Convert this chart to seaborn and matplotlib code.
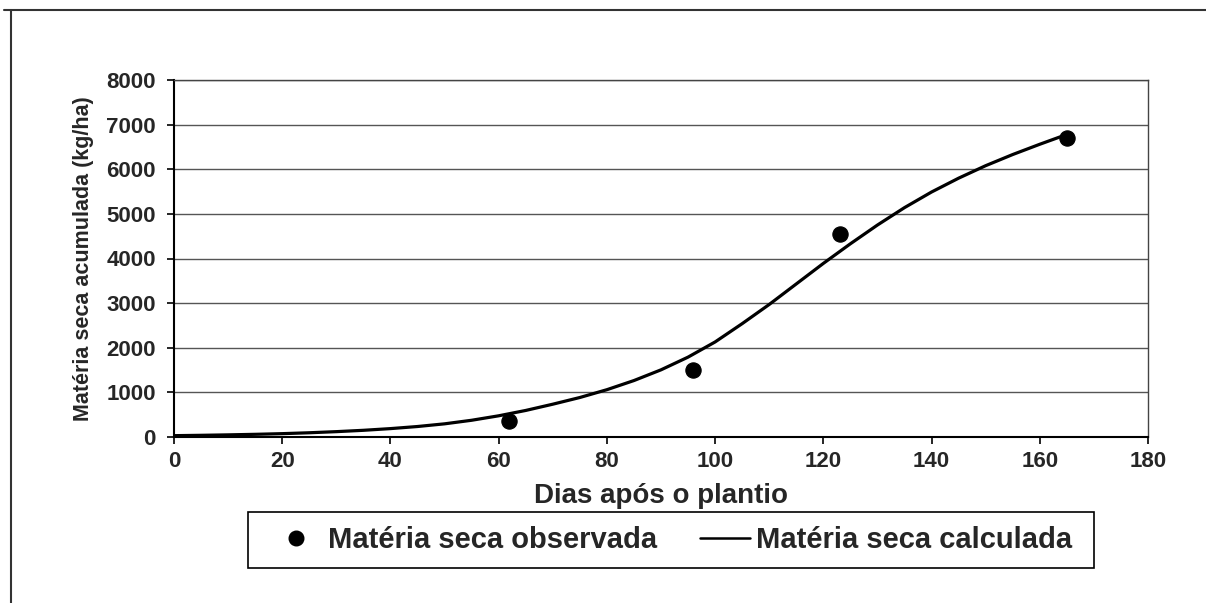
import matplotlib
matplotlib.use("Agg")
import matplotlib.pyplot as plt
import seaborn as sns
import pandas as pd
from matplotlib.lines import Line2D
from matplotlib.patches import Rectangle

obs_days = [62, 96, 123, 165]
obs_values = [350, 1500, 4550, 6700]

calc_days = [0, 5, 10, 15, 20, 25, 30, 35, 40, 45, 50, 55, 60, 65, 70, 75, 80, 85,
             90, 95, 100, 105, 110, 115, 120, 125, 130, 135, 140, 145, 150, 155, 160, 165]
calc_values = [30, 38, 48, 60, 75, 95, 120, 150, 188, 235, 295, 375, 475, 595, 735, 885,
               1060, 1265, 1505, 1790, 2130, 2540, 2970, 3430, 3890, 4330, 4750, 5140,
               5490, 5800, 6080, 6330, 6560, 6780]

x_ticks = [0, 20, 40, 60, 80, 100, 120, 140, 160, 180]
y_ticks = [0, 1000, 2000, 3000, 4000, 5000, 6000, 7000, 8000]

sns.set_theme(style="white")
plt.rcParams['font.family'] = ['Liberation Sans', 'DejaVu Sans']

W, H = 1206, 603
fig = plt.figure(figsize=(W/100, H/100), dpi=100)
ax = fig.add_axes([174/W, 1-437/H, (1148-174)/W, (437-80)/H])

df_calc = pd.DataFrame({"dias": calc_days, "ms": calc_values})
df_obs = pd.DataFrame({"dias": obs_days, "ms": obs_values})

sns.lineplot(data=df_calc, x="dias", y="ms", ax=ax, color="black", linewidth=2.3, zorder=3)
sns.scatterplot(data=df_obs, x="dias", y="ms", ax=ax, color="black", s=120, marker="o",
                edgecolor="black", zorder=4)

ax.set_xlim(0, 180)
ax.set_ylim(0, 8000)
ax.set_xticks(x_ticks)
ax.set_yticks(y_ticks)
ax.set_xticklabels([str(t) for t in x_ticks], fontsize=16, fontweight="bold")
ax.set_yticklabels([str(t) for t in y_ticks], fontsize=16, fontweight="bold")
ax.yaxis.grid(True, color="#555555", linewidth=1.0)
ax.xaxis.grid(False)
ax.tick_params(axis="both", direction="out", length=5, width=1.2, color="black",
               left=True, bottom=True)
ax.tick_params(axis="y", pad=8)
ax.tick_params(axis="x", pad=5)
for side in ["left", "bottom"]:
    ax.spines[side].set_color("black")
    ax.spines[side].set_linewidth(1.5)
for side in ["top", "right"]:
    ax.spines[side].set_color("#444444")
    ax.spines[side].set_linewidth(1.0)

ax.set_xlabel("Dias após o plantio", fontsize=20, fontweight="bold", labelpad=8)
ax.set_ylabel("Matéria seca acumulada (kg/ha)", fontsize=15.5, fontweight="bold", labelpad=9)

handles = [
    Line2D([], [], marker="o", color="black", linestyle="none", markersize=10.5),
    Line2D([], [], color="black", linewidth=1.8),
]
leg = fig.legend(handles, ["Matéria seca observada", "Matéria seca calculada"],
                 loc="center", bbox_to_anchor=(672/W, 1-540/H), ncol=2,
                 prop={"size": 21, "weight": "bold"}, frameon=False,
                 handlelength=1.7, columnspacing=1.5, handletextpad=0.22, borderpad=0.45,
                 borderaxespad=0)

# legend frame box
fig.add_artist(Rectangle((248/W, 1-568/H), (1094-248)/W, (568-512)/H, fill=False,
                         edgecolor="black", linewidth=1.2, transform=fig.transFigure))

# outer frame lines
fig.add_artist(Line2D([0.003, 1.0], [1-10/H, 1-10/H], color="#333333", linewidth=1.5,
                      transform=fig.transFigure))
fig.add_artist(Line2D([11/W, 11/W], [0, 1-10/H], color="#333333", linewidth=1.5,
                      transform=fig.transFigure))

fig.savefig("out.png", dpi=100)
